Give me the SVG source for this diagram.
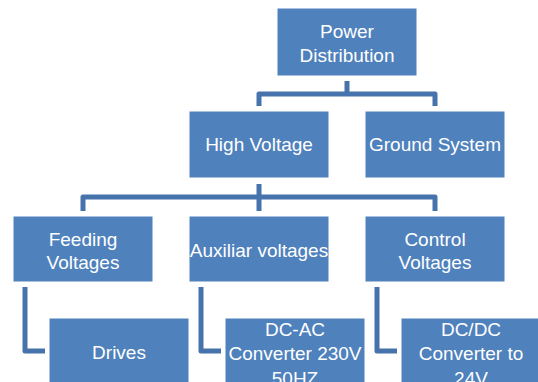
<svg xmlns="http://www.w3.org/2000/svg" width="538" height="382" viewBox="0 0 538 382">
<style>
.box{fill:#4F81BD;stroke:#ffffff;stroke-width:1}
.t{font-family:"Liberation Sans",Arial,sans-serif;font-size:19px;fill:#ffffff;text-anchor:middle}
.c{fill:none;stroke:#4673AB;stroke-width:5;stroke-linejoin:round}
</style>
<rect width="538" height="382" fill="#ffffff"/>
<g id="connectors">
<path class="c" d="M347,81 V94"/>
<path class="c" d="M259,106 V94 H435 V106"/>
<path class="c" d="M259,184 V197"/>
<path class="c" d="M83,211 V197 H435 V211"/>
<path class="c" d="M259,197 V211"/>
<path class="c" d="M25,287 V351 H45"/>
<path class="c" d="M201,287 V351 H221"/>
<path class="c" d="M377,287 V351 H397"/>
</g>
<g id="power">
<rect class="box" x="277" y="8" width="140" height="68"/>
<text class="t" x="347" y="38">Power</text>
<text class="t" x="347" y="62">Distribution</text>
</g>
<g id="high">
<rect class="box" x="189" y="111" width="140" height="67"/>
<text class="t" x="259" y="151">High Voltage</text>
</g>
<g id="ground">
<rect class="box" x="365" y="111" width="140" height="67"/>
<text class="t" x="435" y="151">Ground System</text>
</g>
<g id="feeding">
<rect class="box" x="13" y="216" width="140" height="66"/>
<text class="t" x="83" y="246">Feeding</text>
<text class="t" x="83" y="269">Voltages</text>
</g>
<g id="auxiliar">
<rect class="box" x="189" y="216" width="140" height="66"/>
<text class="t" x="259" y="257">Auxiliar voltages</text>
</g>
<g id="control">
<rect class="box" x="365" y="216" width="140" height="66"/>
<text class="t" x="435" y="246">Control</text>
<text class="t" x="435" y="269">Voltages</text>
</g>
<g id="drives">
<rect class="box" x="49" y="318" width="140" height="68"/>
<text class="t" x="119" y="359">Drives</text>
</g>
<g id="dcac">
<rect class="box" x="225" y="318" width="140" height="68"/>
<text class="t" x="295" y="336">DC-AC</text>
<text class="t" x="295" y="360">Converter 230V</text>
<text class="t" x="295" y="385">50HZ</text>
</g>
<g id="dcdc">
<rect class="box" x="401" y="318" width="140" height="68"/>
<text class="t" x="471" y="336">DC/DC</text>
<text class="t" x="471" y="360">Converter to</text>
<text class="t" x="471" y="385">24V</text>
</g>
</svg>
